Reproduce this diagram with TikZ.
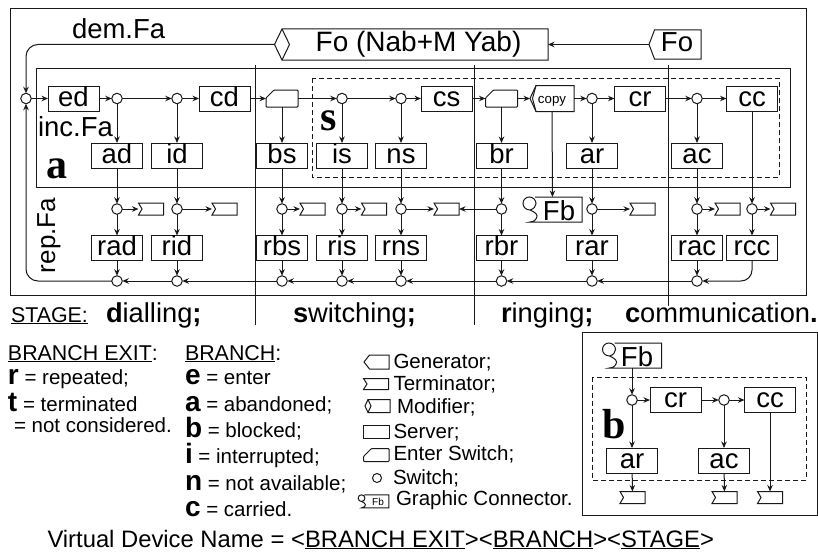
\documentclass[tikz,border=0pt]{standalone}
\usepackage{fontspec}
\setmainfont{Liberation Sans}
\newfontfamily\serifbold{Liberation Serif}[BoldFont={Liberation Serif Bold}]
\usetikzlibrary{arrows.meta}
\newcommand\fsz[1]{\fontsize{#1}{#1}\selectfont}
\newcommand\ul[1]{\setbox0\hbox{#1}\leavevmode\rlap{\rule[-2.2pt]{\wd0}{1pt}}\box0}
\newcommand\bb[1]{{\fsz{28}\bfseries #1}}
\definecolor{ink}{gray}{0.1}
\tikzset{
  every node/.style={inner sep=0pt,outer sep=0pt,text=black},
  ln/.style={draw=ink,line width=1pt},
  arr/.style={ln,-{Stealth[length=6.5pt,width=5.5pt]}},
  srv/.style={draw=ink,line width=1pt,fill=white,minimum width=51pt,minimum height=25pt,
     font=\fsz{27.5},text height=15pt,text depth=0pt},
  sw/.style={circle,draw=ink,line width=1pt,fill=white,minimum size=10.5pt},
  tm/.style={minimum width=25pt,minimum height=12pt,append after command={\pgfextra{\let\LN\tikzlastnode
     \draw[ln] (\LN.north west)--(\LN.north east)--(\LN.south east)--(\LN.south west)--([xshift=3.5pt]\LN.west)--cycle;}}},
  gn/.style={append after command={\pgfextra{\let\LN\tikzlastnode
     \draw[ln] ([xshift=5.5pt]\LN.north west)--(\LN.north east)--(\LN.south east)--([xshift=5.5pt]\LN.south west)--(\LN.west)--cycle;}}},
  es/.style={minimum width=32pt,minimum height=17pt,append after command={\pgfextra{\let\LN\tikzlastnode
     \draw[ln,fill=white,rounded corners=0.8pt] ([xshift=8pt]\LN.north west)--(\LN.north east)--(\LN.south east)--(\LN.south west)--([yshift=-8pt]\LN.north west)--cycle;}}},
  md/.style={append after command={\pgfextra{\let\LN\tikzlastnode
     \draw[ln] (\LN.north west)--(\LN.north east)--(\LN.south east)--(\LN.south west)--([xshift=-#1]\LN.west)--cycle;
     \draw[ln] (\LN.north west)--([xshift=#1]\LN.west)--(\LN.south west);}}},
  fbs/.style={minimum width=59pt*#1,minimum height=25pt*#1,font=\fsz{27.5},text height=21pt,text depth=0pt,
     append after command={\pgfextra{\let\LN\tikzlastnode
     \draw[ln,shift={(\LN.north west)},scale=#1]
       (12,0)--(59,0)--(59,25)--(7,25)
       .. controls (12,25) and (14,21) .. (14,19)
       .. controls (14,16) and (9,14) .. (7,13)
       .. controls (3,13) and (0,10) .. (0,6.5)
       .. controls (0,2.5) and (3,0) .. (6.5,0)
       .. controls (10,0) and (13,3) .. (13,6.5)
       .. controls (13,9) and (11,12) .. (7,13);}}},
  lbl/.style={anchor=base west,font=\fsz{20.5}},
  head/.style={anchor=base west,font=\fsz{21.4}},
  stg/.style={anchor=base west,font=\fsz{27.3}},
  big/.style={anchor=base west,font=\fsz{27.5}},
  serifl/.style={anchor=base west,font=\serifbold\bfseries\fsz{42}},
}
\begin{document}
\begin{tikzpicture}[x=1pt,y=-1pt]
\useasboundingbox (0,0) rectangle (818,551);
\fill[white] (0,0) rectangle (818,551);
% frames
\draw[ln] (10,9) rectangle (806,295);
\draw[ln] (36,68) rectangle (790,187);
\draw[ln,dash pattern=on 5pt off 3pt] (312,78) rectangle (779,177);
% stage separators
\coordinate (v1a) at (255,65); \coordinate (v1b) at (255,325);
\coordinate (v2a) at (474,65); \coordinate (v2b) at (474,325);
\coordinate (v3a) at (668,65); \coordinate (v3b) at (668,306);
\draw[ln] (v1a)--(v1b); \draw[ln] (v2a)--(v2b); \draw[ln] (v3a)--(v3b);
% top
\node[md=7.5pt,minimum width=266pt,minimum height=31pt,font=\fsz{28},text height=15pt,text depth=0pt] (mod) at (415,44.5) {\hspace*{7pt}Fo (Nab+M Yab)};
\coordinate (modtip) at (274.5,44.5);
\node[gn,minimum width=52pt,minimum height=29pt,font=\fsz{27.5},text height=15pt,text depth=0pt] (fo) at (675,44.5) {\hspace*{4pt}Fo};
\node[big] (dem) at (72,39) {dem.Fa};
\node[big] (inc) at (38,136) {inc.Fa};
\node[anchor=base west,font=\fsz{26},rotate=90] (rep) at (55,273) {rep.Fa};
\node[serifl] (la) at (46,178) {a};
\node[serifl] (ls) at (320,130) {s};
% top row
\node[sw] (s0) at (26,98.5) {};
\node[srv] (ed) at (73.5,98.5) {ed};
\node[sw] (s1) at (117,98.5) {};
\node[sw] (s2) at (177,98.5) {};
\node[srv] (cd) at (224.5,98.5) {cd};
\node[es] (e1) at (282,98.5) {};
\node[sw] (s3) at (342,98.5) {};
\node[sw] (s4) at (401,98.5) {};
\node[srv] (cs) at (446.5,98.5) {cs};
\node[es] (e2) at (501.5,98.5) {};
\node[minimum width=44pt,minimum height=26pt,font=\fsz{13.3},text height=9pt,text depth=0pt,append after command={\pgfextra{\let\LN\tikzlastnode
   \draw[ln] ([xshift=6pt]\LN.north west)--(\LN.north east)--(\LN.south east)--([xshift=6pt]\LN.south west)--(\LN.west)--cycle;
   \draw[ln] ([xshift=6pt]\LN.north west)--([xshift=2.5pt]\LN.west)--([xshift=6pt]\LN.south west);}}] (cp) at (552,98.5) {copy};
\node[sw] (s5) at (592,98.5) {};
\node[srv] (cr) at (640,98.5) {cr};
\node[sw] (s6) at (697,98.5) {};
\node[srv] (cc) at (752,98.5) {cc};
% second row
\node[srv] (ad) at (117,155.5) {ad};
\node[srv] (id) at (177,155.5) {id};
\node[srv] (bs) at (282,155.5) {bs};
\node[srv] (is) at (342,155.5) {is};
\node[srv] (ns) at (401,155.5) {ns};
\node[srv] (br) at (501.5,155.5) {br};
\node[srv] (ar) at (592,155.5) {ar};
\node[srv] (ac) at (697,155.5) {ac};
% exit switches
\foreach \n/\x in {m1/117,m2/177,m3/282,m4/342,m5/401,m6/501.5,m7/592,m8/697,m9/752}
  \node[sw] (\n) at (\x,209) {};
\foreach \n/\x in {t1/151,t2/224.5,t3/312.5,t4/374,t5/446.5,t7/642.5,t8/727.5,t9/783}
  \node[tm] (\n) at (\x,209) {};
\node[fbs=1] (fb) at (552.5,209.5) {\hspace*{13pt}Fb};
% repeated servers
\node[srv] (rad) at (117,248) {rad};
\node[srv] (rid) at (177,248) {rid};
\node[srv] (rbs) at (282,248) {rbs};
\node[srv] (ris) at (342,248) {ris};
\node[srv] (rns) at (401,248) {rns};
\node[srv] (rbr) at (501.5,248) {rbr};
\node[srv] (rar) at (592,248) {rar};
\node[srv] (rac) at (697,248) {rac};
\node[srv] (rcc) at (752,248) {rcc};
% return row
\foreach \n/\x in {b1/117,b2/177,b3/282,b4/342,b5/401,b6/501.5,b7/592,b8/697}
  \node[sw] (\n) at (\x,281) {};
% connectors
\draw[arr,rounded corners=12pt] (modtip) -| (s0);
\draw[arr,rounded corners=12pt] (b1) -| (s0);
\draw[arr] (fo) -- (mod);
\foreach \a/\b in {s0/ed,ed/s1,s1/s2,s2/cd,cd/e1,e1/s3,s3/s4,s4/cs,cs/e2,e2/cp,cp/s5,s5/cr,cr/s6,s6/cc,
   s1/ad,s2/id,e1/bs,s3/is,s4/ns,e2/br,s5/ar,s6/ac,
   ad/m1,id/m2,bs/m3,is/m4,ns/m5,br/m6,ar/m7,ac/m8,cc/m9,cp/fb,
   m1/t1,m2/t2,m3/t3,m4/t4,m5/t5,m6/t5,m7/t7,m8/t8,m9/t9,
   m1/rad,m2/rid,m3/rbs,m4/ris,m5/rns,m6/rbr,m7/rar,m8/rac,m9/rcc,
   rad/b1,rid/b2,rbs/b3,ris/b4,rns/b5,rbr/b6,rar/b7,rac/b8,
   b2/b1,b3/b2,b4/b3,b5/b4,b6/b5,b7/b6,b8/b7}
  \draw[arr] (\a) -- (\b);
\draw[arr,rounded corners=11pt] (rcc) |- (b8);
% stage line
\node[head] (stgl) at (11,322) {\ul{STAGE:}};
\node[stg] (st1) at (106,322) {\textbf{d}ialling\textbf{;}};
\node[stg] (st2) at (293,322) {\textbf{s}witching\textbf{;}};
\node[stg] (st3) at (501,322) {\textbf{r}inging\textbf{;}};
\node[stg] (st4) at (625,322) {\textbf{c}ommunication\textbf{.}};
% branch exit
\node[head] (bx) at (8,360) {\ul{BRANCH EXIT}:};
\node[lbl] (bx1) at (8,384) {\bb{r} = repeated;};
\node[lbl] (bx2) at (8,411) {\bb{t} = terminated};
\node[lbl] (bx3) at (14,432) {= not considered.};
% branch
\node[head] (br0) at (185,360) {\ul{BRANCH}:};
\node[lbl] (b1t) at (185,384) {\bb{e} = enter};
\node[lbl] (b2t) at (185,411) {\bb{a} = abandoned;};
\node[lbl] (b3t) at (185,437) {\bb{b} = blocked;};
\node[lbl] (b4t) at (185,463) {\bb{i} = interrupted;};
\node[lbl] (b5t) at (185,490) {\bb{n} = not available;};
\node[lbl] (b6t) at (185,516) {\bb{c} = carried.};
% symbol legend
\node[gn,minimum width=25pt,minimum height=14pt] (lg1) at (376.5,362) {};
\node[lbl] (lt1) at (393.5,368) {Generator;};
\node[tm,minimum width=25pt,minimum height=11pt] (lg2) at (376,384) {};
\node[lbl] (lt2) at (393.5,390) {Terminator;};
\node[md=3pt,minimum width=22pt,minimum height=13pt] (lg3) at (379,406) {};
\node[lbl] (lt3) at (397,413) {Modifier;};
\node[draw=ink,line width=1pt,minimum width=26pt,minimum height=13pt] (lg4) at (376.5,431.5) {};
\node[lbl] (lt4) at (393.5,438) {Server;};
\node[es,minimum width=25.5pt,minimum height=13pt] (lg5) at (376.25,455) {};
\node[lbl] (lt5) at (393.5,460) {Enter Switch;};
\node[sw,minimum size=9pt] (lg6) at (377,478) {};
\node[lbl] (lt6) at (393,484) {Switch;};
\node[fbs=0.52,font=\fsz{10},text height=8.8pt] (lg7) at (373.5,501.3) {\hspace*{9pt}Fb};
\node[lbl] (lt7) at (396,505) {Graphic Connector.};
% name line
\node[anchor=base west,font=\fsz{23.8}] (vdn) at (47.5,547) {Virtual Device Name = <\ul{BRANCH EXIT}>{}<\ul{BRANCH}>{}<\ul{STAGE}>};
% inset b
\draw[ln] (582,332) rectangle (817,515);
\draw[ln,dash pattern=on 5pt off 3pt] (592,377) rectangle (806,480);
\node[fbs=1] (xfb) at (632,355.5) {\hspace*{10pt}Fb};
\node[sw] (xs1) at (632,400) {};
\node[srv] (xcr) at (675.5,400) {cr};
\node[sw] (xs2) at (724,400) {};
\node[srv] (xcc) at (770,400) {cc};
\node[srv] (xar) at (632,460.5) {ar};
\node[srv] (xac) at (724,460.5) {ac};
\node[tm] (xt1) at (632.5,497.5) {};
\node[tm] (xt2) at (724.5,497.5) {};
\node[tm] (xt3) at (770,497.5) {};
\node[serifl] (lb) at (602,438) {b};
\foreach \a/\b in {xfb/xs1,xs1/xcr,xcr/xs2,xs2/xcc,xs1/xar,xs2/xac,xar/xt1,xac/xt2,xcc/xt3}
  \draw[arr] (\a) -- (\b);
\end{tikzpicture}
\end{document}
